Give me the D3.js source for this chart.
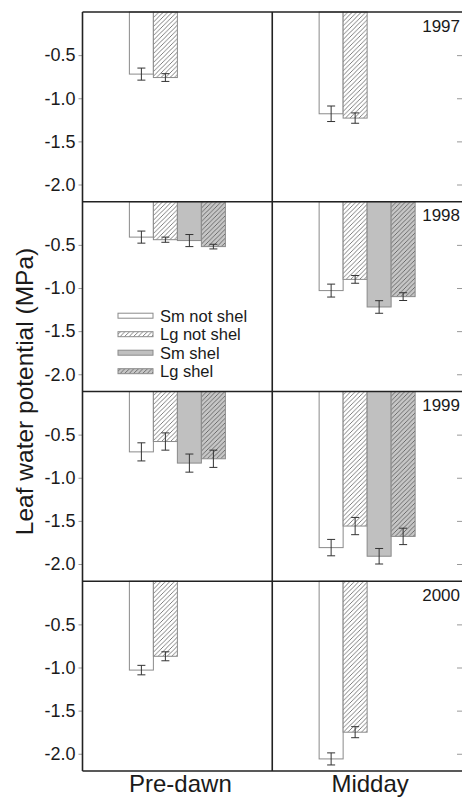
<!DOCTYPE html>
<html>
<head>
<meta charset="utf-8">
<script src="https://cdn.jsdelivr.net/npm/d3@7"></script>
<style>
  body { margin: 0; background: #fff; }
  svg text { font-family: "Liberation Sans", Arial, sans-serif; fill: #1a1a1a; }
</style>
</head>
<body>
<div id="chart"></div>
<script>
// categories
var times = ["Pre-dawn", "Midday"];
var series = ["Sm not shel", "Lg not shel", "Sm shel", "Lg shel"];
var years = ["1997", "1998", "1999", "2000"];
var tickVals = [-0.5, -1.0, -1.5, -2.0];

// means per year: [pre-dawn row, midday row], one value per series (null = not measured)
var mean1997 = [[-0.72, -0.76, null, null], [-1.18, -1.23, null, null]];
var mean1998 = [[-0.41, -0.44, -0.45, -0.52], [-1.03, -0.90, -1.22, -1.10]];
var mean1999 = [[-0.70, -0.58, -0.83, -0.78], [-1.81, -1.56, -1.91, -1.68]];
var mean2000 = [[-1.03, -0.87, null, null], [-2.06, -1.75, null, null]];

// standard errors, same layout
var se1997 = [[0.07, 0.045, null, null], [0.09, 0.06, null, null]];
var se1998 = [[0.07, 0.03, 0.07, 0.027], [0.075, 0.045, 0.073, 0.045]];
var se1999 = [[0.105, 0.10, 0.105, 0.10], [0.095, 0.10, 0.09, 0.095]];
var se2000 = [[0.055, 0.052, null, null], [0.07, 0.064, null, null]];

var means = [mean1997, mean1998, mean1999, mean2000];
var ses = [se1997, se1998, se1999, se2000];

var W = 462, H = 798;
var plotLeft = 82.5, plotRight = 462, plotTop = 12, plotBottom = 771;
var panelH = (plotBottom - plotTop) / years.length;

var svg = d3.select("#chart").append("svg")
  .attr("width", W).attr("height", H);

// ---- patterns ----
var defs = svg.append("defs");
function hatch(id, bg, line) {
  var p = defs.append("pattern")
    .attr("id", id)
    .attr("patternUnits", "userSpaceOnUse")
    .attr("width", 4.5).attr("height", 4.5);
  p.append("rect").attr("width", 4.5).attr("height", 4.5).attr("fill", bg);
  p.append("path")
    .attr("d", "M-1,1 l2,-2 M0,4.5 l4.5,-4.5 M3.5,5.5 l2,-2")
    .attr("stroke", line).attr("stroke-width", 0.9);
}
hatch("hatchWhite", "#ffffff", "#707070");
hatch("hatchGray", "#c6c6c6", "#626262");

var fills = ["#ffffff", "url(#hatchWhite)", "#c0c0c0", "url(#hatchGray)"];
var barStroke = "#8a8a8a";

// ---- scales ----
var x0 = d3.scaleBand().domain(times).range([plotLeft, plotRight]);
var x1 = d3.scaleBand().domain(series).range([-48, 48]);

years.forEach(function(yr, yi) {
  var pTop = plotTop + yi * panelH;
  var y = d3.scaleLinear().domain([-2.2, 0]).range([pTop + panelH, pTop]);
  var g = svg.append("g");

  // bars
  times.forEach(function(t, ti) {
    series.forEach(function(s, si) {
      var v = means[yi][ti][si];
      if (v == null) return;
      var bx = x0(t) + x0.bandwidth() / 2 + x1(s);
      g.append("rect")
        .attr("x", bx)
        .attr("y", y(0))
        .attr("width", x1.bandwidth())
        .attr("height", y(v) - y(0))
        .attr("fill", fills[si])
        .attr("stroke", barStroke)
        .attr("stroke-width", 1);

      // error bar
      var e = ses[yi][ti][si];
      var cx = bx + x1.bandwidth() / 2;
      var eb = g.append("g").attr("stroke", "#333").attr("stroke-width", 1);
      eb.append("line").attr("x1", cx).attr("x2", cx).attr("y1", y(v + e)).attr("y2", y(v - e));
      eb.append("line").attr("x1", cx - 4).attr("x2", cx + 4).attr("y1", y(v + e)).attr("y2", y(v + e));
      eb.append("line").attr("x1", cx - 4).attr("x2", cx + 4).attr("y1", y(v - e)).attr("y2", y(v - e));
    });
  });

  // left axis
  var ax = svg.append("g")
    .attr("transform", "translate(" + plotLeft + ",0)")
    .call(d3.axisLeft(y).tickValues(tickVals).tickSize(4).tickPadding(3)
      .tickFormat(function(d) { return d.toFixed(1); }));
  ax.select(".domain").remove();
  ax.selectAll(".tick line").attr("stroke", "#999");
  ax.selectAll(".tick text").attr("font-size", 18).attr("fill", "#1a1a1a")
    .attr("font-family", "'Liberation Sans', Arial, sans-serif");

  // right ticks (inward)
  var ar = svg.append("g")
    .attr("transform", "translate(" + plotRight + ",0)")
    .call(d3.axisRight(y).tickValues(tickVals).tickSize(-5).tickFormat(""));
  ar.select(".domain").remove();
  ar.selectAll(".tick line").attr("stroke", "#999");

  // year label
  svg.append("text")
    .attr("x", 460).attr("y", pTop + 19.5)
    .attr("text-anchor", "end")
    .attr("font-size", 17)
    .text(yr);

  // panel top line
  svg.append("line")
    .attr("x1", plotLeft).attr("x2", plotRight)
    .attr("y1", pTop).attr("y2", pTop)
    .attr("stroke", "#222").attr("stroke-width", 1.6);
});

// frame: bottom, left spine, middle divider
svg.append("line").attr("x1", plotLeft).attr("x2", plotRight).attr("y1", plotBottom).attr("y2", plotBottom)
  .attr("stroke", "#222").attr("stroke-width", 1.6);
svg.append("line").attr("x1", plotLeft).attr("x2", plotLeft).attr("y1", plotTop).attr("y2", plotBottom)
  .attr("stroke", "#222").attr("stroke-width", 1.6);
svg.append("line").attr("x1", x0("Midday")).attr("x2", x0("Midday")).attr("y1", plotTop).attr("y2", plotBottom)
  .attr("stroke", "#222").attr("stroke-width", 1.6);

// x category labels
svg.selectAll(".xlab").data(times).enter().append("text")
  .attr("class", "xlab")
  .attr("x", function(d) { return x0(d) + x0.bandwidth() / 2 + 3; })
  .attr("y", 792)
  .attr("text-anchor", "middle")
  .attr("font-size", 24)
  .text(function(d) { return d; });

// y title
svg.append("text")
  .attr("transform", "translate(33," + ((plotTop + plotBottom) / 2) + ") rotate(-90)")
  .attr("text-anchor", "middle")
  .attr("font-size", 24.5)
  .text("Leaf water potential (MPa)");

// legend
var legend = svg.append("g").attr("transform", "translate(118,315.7)");
series.forEach(function(s, i) {
  var row = legend.append("g").attr("transform", "translate(0," + (i * 18.5) + ")");
  row.append("rect")
    .attr("x", 0).attr("y", -2.5)
    .attr("width", 35).attr("height", 5)
    .attr("fill", fills[i])
    .attr("stroke", barStroke).attr("stroke-width", 1);
  row.append("text")
    .attr("x", 42).attr("y", 6)
    .attr("font-size", 16.5)
    .text(s);
});
</script>
</body>
</html>
